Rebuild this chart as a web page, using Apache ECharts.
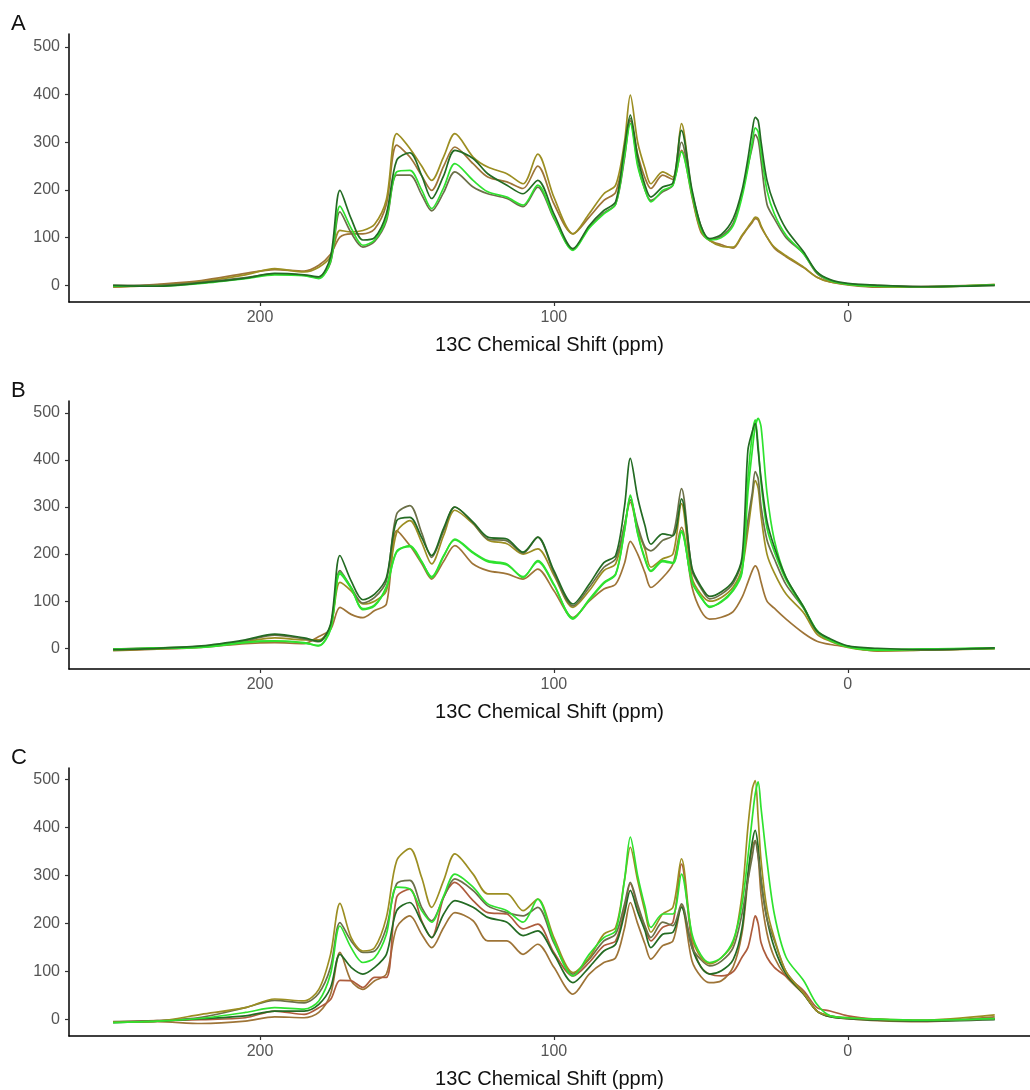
<!DOCTYPE html>
<html>
<head>
<meta charset="utf-8">
<title>13C spectra</title>
<script src="https://cdn.jsdelivr.net/npm/echarts@6/dist/echarts.min.js"></script>
<style>
    html, body { margin: 0; padding: 0; background: #fff; }
    #spectra-chart { width: 1030px; height: 1090px; }
</style>
</head>
<body>
<div id="spectra-chart"></div>
<script>
// chemical shift positions (ppm), shared by every trace
const shiftPpm = [250, 235, 220, 205, 195, 185, 180, 176, 172.8, 169, 165, 161, 157, 153.5, 149, 145, 141.6, 137.5, 133.7, 127.5,
    122.5, 116, 110.5, 105.5, 100, 93.5, 88, 83, 79, 76, 74, 71.5, 69, 67, 63, 59.5, 56.6, 53, 50, 47,
    43, 39, 36, 34, 32.5, 31.5, 30.5, 29.5, 27.5, 25, 21, 15, 10.5, 6, 0, -10, -25, -50];

const xTicks = [200, 100, 0];
const yTicks = [0, 100, 200, 300, 400, 500];
const panelLabels = ['A', 'B', 'C'];

// panel A
const aDarkGreen = [0, -2, 5, 15, 25, 22, 18, 60, 199, 140, 95, 100, 150, 262, 278, 230, 182, 230, 283, 266,
    234, 210, 192, 220, 150, 77, 125, 157, 175, 290, 357, 270, 210, 185, 206, 215, 325, 200, 125, 98,
    107, 140, 199, 265, 325, 352, 345, 300, 220, 170, 118, 70, 28, 12, 4, 0, -3, 0];
const aGreen = [-2, -2, 4, 14, 22, 20, 14, 50, 166, 120, 84, 95, 140, 238, 241, 200, 161, 205, 255, 220,
    196, 185, 168, 210, 143, 73, 120, 150, 170, 270, 339, 250, 200, 175, 199, 210, 280, 190, 120, 95,
    100, 125, 185, 245, 300, 330, 322, 280, 199, 150, 105, 66, 27, 10, 2, -2, -3, 1];
const aGrey = [0, 0, 6, 16, 24, 21, 16, 48, 154, 110, 80, 92, 135, 231, 231, 190, 156, 195, 238, 206,
    192, 182, 165, 206, 140, 75, 122, 152, 170, 265, 350, 255, 200, 178, 196, 210, 300, 195, 125, 96,
    103, 130, 192, 250, 290, 316, 305, 260, 170, 140, 100, 66, 25, 10, 3, 0, -2, 0];
const aOlive = [-3, 0, 8, 22, 35, 28, 38, 60, 115, 112, 115, 128, 180, 318, 287, 250, 220, 270, 318, 269,
    248, 234, 213, 275, 185, 108, 150, 192, 210, 300, 399, 300, 245, 213, 238, 227, 339, 190, 115, 94,
    82, 80, 105, 122, 135, 143, 140, 125, 101, 80, 62, 38, 17, 7, 2, -3, -4, 2];
const aBrown = [-4, 2, 10, 25, 33, 30, 42, 65, 101, 108, 108, 118, 170, 294, 269, 230, 199, 250, 290, 255,
    227, 217, 203, 250, 171, 108, 143, 178, 195, 280, 345, 275, 225, 203, 231, 222, 283, 185, 112, 94,
    85, 78, 103, 120, 132, 140, 137, 122, 101, 78, 60, 37, 17, 7, 1, -4, -3, 1];

// panel B
const bDarkGreen = [-3, 0, 5, 18, 30, 22, 15, 51, 197, 143, 103, 115, 150, 271, 278, 235, 197, 255, 300, 268,
    236, 232, 204, 236, 165, 94, 136, 182, 197, 300, 403, 320, 260, 221, 243, 239, 317, 170, 132, 110,
    120, 143, 193, 420, 460, 477, 420, 360, 270, 215, 150, 87, 37, 20, 5, 0, -3, 1];
const bGreen = [-2, 0, 2, 12, 15, 12, 5, 40, 161, 129, 82, 90, 129, 204, 218, 185, 150, 195, 232, 204,
    186, 179, 150, 186, 136, 62, 104, 140, 158, 250, 325, 245, 190, 165, 186, 182, 250, 140, 110, 87,
    100, 125, 165, 360, 455, 485, 430, 350, 255, 205, 145, 85, 37, 18, 4, -3, -2, 1];
const bGreen2 = [-3, 1, 3, 13, 16, 11, 6, 42, 158, 127, 84, 92, 131, 206, 216, 183, 152, 197, 230, 202,
    184, 177, 152, 184, 134, 64, 102, 138, 156, 248, 322, 243, 188, 163, 184, 180, 246, 142, 108, 89,
    98, 122, 160, 330, 420, 470, 488, 470, 330, 230, 150, 88, 38, 17, 3, -4, -2, 0];
const bGrey = [-2, 1, 4, 16, 28, 20, 14, 48, 165, 129, 96, 108, 143, 285, 303, 245, 193, 250, 300, 266,
    232, 228, 202, 236, 160, 90, 129, 172, 190, 260, 315, 260, 215, 207, 229, 240, 339, 165, 128, 105,
    115, 138, 185, 271, 330, 375, 360, 300, 230, 190, 135, 85, 35, 18, 4, -2, -3, 0];
const bOlive = [-4, -1, 3, 14, 22, 18, 18, 45, 140, 122, 94, 100, 122, 246, 271, 225, 179, 240, 293, 264,
    230, 222, 200, 211, 155, 87, 122, 165, 179, 260, 310, 250, 210, 172, 190, 200, 307, 150, 115, 100,
    108, 130, 170, 250, 320, 356, 340, 280, 200, 160, 115, 75, 30, 15, 2, -5, -4, -1];
const bBrown = [-5, -2, 2, 10, 12, 10, 25, 40, 87, 72, 65, 80, 94, 250, 218, 180, 147, 185, 218, 179,
    165, 158, 147, 168, 122, 65, 100, 126, 136, 180, 227, 200, 160, 129, 150, 179, 257, 130, 80, 62,
    66, 78, 108, 140, 165, 175, 165, 140, 100, 85, 62, 32, 15, 8, 3, -6, -4, 0];

// panel C
const cOlive = [-5, -3, 11, 25, 43, 39, 63, 136, 242, 171, 143, 150, 213, 331, 356, 296, 234, 290, 345, 303,
    262, 262, 227, 251, 171, 98, 129, 178, 192, 290, 359, 290, 225, 182, 220, 234, 335, 171, 130, 116,
    129, 160, 260, 400, 480, 498, 420, 330, 230, 170, 100, 55, 18, 8, 4, 1, -1, 10];
const cGrey = [-4, -2, 5, 25, 40, 35, 55, 109, 202, 164, 140, 143, 192, 283, 290, 234, 206, 255, 293, 269,
    237, 223, 216, 234, 160, 95, 126, 164, 178, 240, 286, 240, 195, 171, 203, 196, 241, 150, 125, 112,
    122, 150, 220, 290, 340, 373, 340, 290, 210, 165, 100, 55, 18, 8, 3, 0, -2, 1];
const cGreen = [-6, -3, 3, 15, 25, 22, 39, 95, 195, 150, 119, 129, 178, 276, 272, 227, 203, 258, 303, 276,
    241, 227, 203, 251, 164, 91, 136, 171, 185, 290, 380, 300, 235, 192, 220, 220, 303, 178, 135, 119,
    129, 165, 240, 338, 420, 470, 495, 440, 330, 220, 130, 81, 32, 8, 4, 1, -1, 2];
const cDarkGreen = [-6, -3, 2, 8, 18, 18, 32, 67, 136, 109, 95, 109, 136, 227, 244, 203, 171, 220, 248, 234,
    213, 203, 175, 185, 136, 77, 109, 143, 157, 220, 269, 225, 185, 150, 178, 182, 234, 150, 110, 95,
    102, 125, 190, 303, 370, 394, 360, 290, 210, 150, 95, 53, 18, 6, 2, -1, -3, 0];
const cRed = [-5, -2, 0, 4, 18, 11, 25, 42, 82, 81, 67, 88, 88, 255, 272, 206, 171, 255, 286, 248,
    223, 220, 189, 199, 140, 91, 119, 154, 164, 230, 283, 235, 192, 164, 192, 203, 324, 160, 110, 95,
    91, 100, 130, 150, 190, 216, 200, 160, 130, 109, 90, 60, 25, 18, 8, 1, -3, 2];
const cBrown = [-5, -4, -8, -3, 6, 4, 15, 53, 140, 81, 63, 81, 95, 192, 216, 178, 150, 192, 223, 206,
    164, 164, 136, 157, 109, 53, 95, 119, 129, 190, 244, 200, 157, 126, 154, 164, 237, 122, 90, 77,
    81, 110, 180, 290, 360, 373, 340, 260, 180, 130, 90, 53, 18, 6, 2, -2, -4, 6];

const COLORS = {
    darkGreen: '#236b23',
    green: '#2fe22f',
    grey: '#6b7048',
    olive: '#9c8e22',
    brown: '#9e7437',
    red: '#ad5c3c'
};

// which traces go in which panel
const panels = [
    [[aBrown, 'brown'], [aOlive, 'olive'], [aGrey, 'grey'], [aGreen, 'green'], [aDarkGreen, 'darkGreen']],
    [[bBrown, 'brown'], [bOlive, 'olive'], [bGrey, 'grey'], [bGreen2, 'green'], [bGreen, 'green'], [bDarkGreen, 'darkGreen']],
    [[cBrown, 'brown'], [cRed, 'red'], [cDarkGreen, 'darkGreen'], [cGrey, 'grey'], [cOlive, 'olive'], [cGreen, 'green']]
];

const gridTops = [34, 401, 768];
const gridHeight = 268;
const yRanges = [[-35, 527], [-44, 525], [-34, 524]];

let grids = [], xAxes = [], yAxes = [], series = [], graphics = [];

panels.forEach(function (traces, p) {
    grids.push({left: 69, right: 0, top: gridTops[p], height: gridHeight});
    xAxes.push({
        type: 'value',
        gridIndex: p,
        inverse: true,
        min: -62,
        max: 265,
        name: '13C Chemical Shift (ppm)',
        nameLocation: 'middle',
        nameGap: 33,
        nameTextStyle: {color: '#111', fontSize: 20, fontFamily: 'Liberation Sans'},
        splitLine: {show: false},
        axisLine: {onZero: false, lineStyle: {color: '#000', width: 1.5}},
        axisTick: {customValues: xTicks, length: 4, lineStyle: {color: '#333', width: 1.2}},
        axisLabel: {customValues: xTicks, color: '#555', fontSize: 16, margin: 8, fontFamily: 'Liberation Sans'}
    });
    yAxes.push({
        type: 'value',
        gridIndex: p,
        position: 'left',
        min: yRanges[p][0],
        max: yRanges[p][1],
        splitLine: {show: false},
        axisLine: {show: true, onZero: false, lineStyle: {color: '#000', width: 1.5}},
        axisTick: {show: true, customValues: yTicks, length: 4, lineStyle: {color: '#333', width: 1.2}},
        axisLabel: {customValues: yTicks, color: '#555', fontSize: 16, margin: 9, fontFamily: 'Liberation Sans'}
    });
    graphics.push({
        type: 'text',
        left: 11,
        top: gridTops[p] - 21,
        style: {text: panelLabels[p], fontSize: 22, fill: '#111', fontFamily: 'Liberation Sans'}
    });
    traces.forEach(function (t) {
        series.push({
            type: 'line',
            xAxisIndex: p,
            yAxisIndex: p,
            showSymbol: false,
            smooth: 0.3,
            data: shiftPpm.map(function (x, i) { return [x, t[0][i]]; }),
            lineStyle: {color: COLORS[t[1]], width: 1.7},
            itemStyle: {color: COLORS[t[1]]},
            silent: true
        });
    });
});

const myChart = echarts.init(document.getElementById('spectra-chart'));
myChart.setOption({
    animation: false,
    backgroundColor: '#fff',
    grid: grids,
    xAxis: xAxes,
    yAxis: yAxes,
    graphic: graphics,
    series: series
});
</script>
</body>
</html>
